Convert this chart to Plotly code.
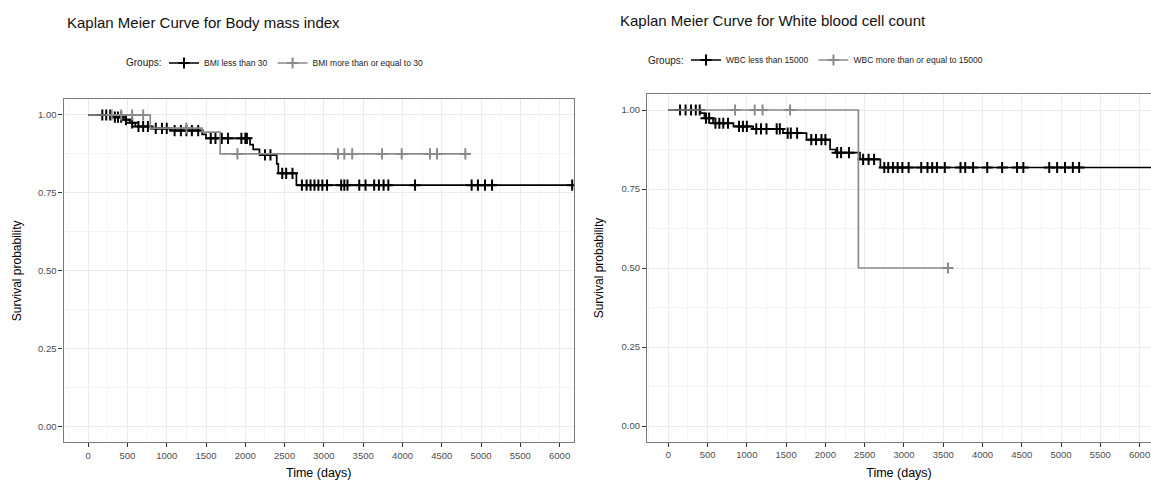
import plotly.graph_objects as go

# ---------------- data ----------------
bmi_lt30_time = [0, 300, 450, 530, 600, 800, 1050, 1450, 1500, 2060, 2100, 2180, 2400, 2420, 2650, 6170]
bmi_lt30_surv = [1.0, 0.993, 0.985, 0.975, 0.963, 0.957, 0.950, 0.938, 0.925, 0.905, 0.89, 0.872, 0.843, 0.813, 0.775, 0.775]
bmi_lt30_censor = [180, 230, 280, 340, 380, 420, 480, 560, 640, 700, 760, 860, 940, 1000, 1100, 1180,
                   1250, 1320, 1400, 1560, 1620, 1700, 1780, 1950, 2000, 2020, 2250, 2320, 2470, 2520,
                   2600, 2720, 2780, 2830, 2880, 2930, 2980, 3040, 3220, 3260, 3300, 3450, 3530, 3640,
                   3700, 3760, 3820, 4160, 4880, 4960, 5050, 5140, 6160]

bmi_ge30_time = [0, 790, 1450, 1680, 4800]
bmi_ge30_surv = [1.0, 0.958, 0.945, 0.875, 0.875]
bmi_ge30_censor = [300, 420, 560, 700, 1250, 1900, 3180, 3260, 3360, 3740, 3990, 4350, 4440, 4800]

wbc_lt15k_time = [0, 410, 460, 570, 830, 1080, 1460, 1760, 2060, 2130, 2440, 2700, 6400]
wbc_lt15k_surv = [1.0, 0.99, 0.974, 0.958, 0.948, 0.94, 0.927, 0.906, 0.875, 0.865, 0.844, 0.818, 0.818]
wbc_lt15k_censor = [150, 220, 290, 350, 400, 480, 520, 600, 650, 700, 760, 900, 950, 1000, 1120, 1180,
                    1250, 1380, 1420, 1520, 1560, 1640, 1820, 1880, 1950, 2000, 2150, 2200, 2300, 2480,
                    2550, 2620, 2750, 2800, 2860, 2920, 2980, 3060, 3220, 3300, 3360, 3420, 3520, 3720,
                    3780, 3880, 4060, 4250, 4440, 4520, 4850, 4950, 5050, 5150, 5230]

wbc_ge15k_time = [0, 2420, 3560]
wbc_ge15k_surv = [1.0, 0.5, 0.5]
wbc_ge15k_censor = [850, 1100, 1200, 1550, 3560]

x_ticks = list(range(0, 6001, 500))
y_ticks = [0.0, 0.25, 0.5, 0.75, 1.0]
y_tick_labels = ["0.00", "0.25", "0.50", "0.75", "1.00"]

BLACK = "#000000"
GREY = "#8a8a8a"


def step_at(times, survs, t):
    s = survs[0]
    for ti, si in zip(times, survs):
        if ti <= t:
            s = si
    return s


fig = go.Figure()


def add_group(name, times, survs, censor, color, xa, ya, legend):
    fig.add_trace(go.Scatter(
        x=times, y=survs, mode="lines", line=dict(shape="hv", color=color, width=1.7),
        xaxis=xa, yaxis=ya, legend=legend, name=name, showlegend=False, hoverinfo="skip",
    ))
    fig.add_trace(go.Scatter(
        x=censor, y=[step_at(times, survs, c) for c in censor], mode="markers",
        marker=dict(symbol="cross-thin", size=8, line=dict(color=color, width=2), color=color),
        xaxis=xa, yaxis=ya, legend=legend, name=name, showlegend=False,
    ))
    # legend entry
    fig.add_trace(go.Scatter(
        x=[None], y=[None], mode="lines+markers",
        line=dict(color=color, width=1.7),
        marker=dict(symbol="cross-thin", size=8, line=dict(color=color, width=2), color=color),
        xaxis=xa, yaxis=ya, legend=legend, name=name, showlegend=True,
    ))


add_group("BMI less than 30", bmi_lt30_time, bmi_lt30_surv, bmi_lt30_censor, BLACK, "x", "y", "legend")
add_group("BMI more than or equal to 30", bmi_ge30_time, bmi_ge30_surv, bmi_ge30_censor, GREY, "x", "y", "legend")
add_group("WBC less than 15000", wbc_lt15k_time, wbc_lt15k_surv, wbc_lt15k_censor, BLACK, "x2", "y2", "legend2")
add_group("WBC more than or equal to 15000", wbc_ge15k_time, wbc_ge15k_surv, wbc_ge15k_censor, GREY, "x2", "y2", "legend2")

W, H = 1151, 481
FONT = "Liberation Sans, Arial, sans-serif"

axis_common = dict(
    showgrid=True, gridcolor="#ebebeb", gridwidth=1,
    showline=True, linecolor="#7a7a7a", linewidth=1.2, mirror=True,
    ticks="outside", ticklen=4, tickcolor="#333333", tickwidth=1,
    tickfont=dict(family=FONT, size=9.5, color="#4d4d4d"),
    zeroline=False,
)

xax = dict(axis_common, tickvals=x_ticks, ticktext=[str(v) for v in x_ticks],
           title=dict(text="Time (days)", font=dict(family=FONT, size=12.5, color="#000"), standoff=8))
xax["minor"] = dict(showgrid=True, gridcolor="#f4f4f4", gridwidth=0.6, dtick=250, tick0=0)
yax = dict(axis_common, tickvals=y_ticks, ticktext=y_tick_labels,
           title=dict(text="Survival probability", font=dict(family=FONT, size=12, color="#000"), standoff=13))
yax["minor"] = dict(showgrid=True, gridcolor="#f4f4f4", gridwidth=0.6, dtick=0.125, tick0=0)
yax2 = dict(yax)
yax2["title"] = dict(text="Survival probability", font=dict(family=FONT, size=12, color="#000"), standoff=15)
yax2["mirror"] = False  # right border of the right panel lies outside the picture

legend_common = dict(
    orientation="h", xanchor="left", yanchor="middle",
    font=dict(family=FONT, size=8.5, color="#222"), itemwidth=30,
    bgcolor="rgba(0,0,0,0)", tracegroupgap=0,
)

fig.update_layout(
    width=W, height=H,
    margin=dict(l=0, r=0, t=0, b=0),
    paper_bgcolor="white", plot_bgcolor="white",
    font=dict(family=FONT, color="#000"),
    xaxis=dict(xax, domain=[63.5 / W, 574 / W], range=[-314, 6183], anchor="y"),
    yaxis=dict(yax, domain=[(H - 442.3) / H, (H - 99.4) / H], range=[-0.05, 1.05], anchor="x"),
    xaxis2=dict(xax, domain=[647 / W, 1.0], range=[-271, 6145], anchor="y2"),
    yaxis2=dict(yax2, domain=[(H - 441.8) / H, (H - 94.2) / H], range=[-0.05, 1.05], anchor="x2"),
    legend=dict(legend_common, x=164 / W, y=(H - 63) / H),
    legend2=dict(legend_common, x=686 / W, y=(H - 60) / H),
    annotations=[
        dict(text="Kaplan Meier Curve for Body mass index", x=65 / W, y=(H - 22) / H,
             xref="paper", yref="paper", xanchor="left", yanchor="middle", showarrow=False,
             font=dict(family=FONT, size=15, color="#111")),
        dict(text="Kaplan Meier Curve for White blood cell count", x=618 / W, y=(H - 20) / H,
             xref="paper", yref="paper", xanchor="left", yanchor="middle", showarrow=False,
             font=dict(family=FONT, size=15, color="#111")),
        dict(text="Groups:", x=124 / W, y=(H - 63) / H,
             xref="paper", yref="paper", xanchor="left", yanchor="middle", showarrow=False,
             font=dict(family=FONT, size=10, color="#222")),
        dict(text="Groups:", x=646 / W, y=(H - 60) / H,
             xref="paper", yref="paper", xanchor="left", yanchor="middle", showarrow=False,
             font=dict(family=FONT, size=10, color="#222")),
    ],
)

fig.write_html("out.html", config={"displayModeBar": False},
               post_script="document.body.style.margin='0';document.body.style.overflow='hidden';")
